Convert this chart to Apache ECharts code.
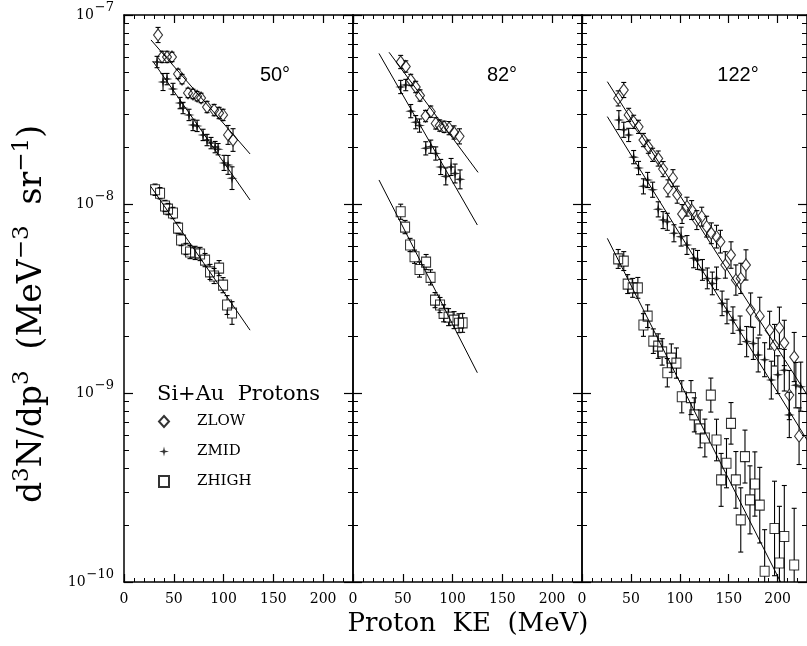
<!DOCTYPE html>
<html><head><meta charset="utf-8">
<script src="https://cdn.jsdelivr.net/npm/echarts@6/dist/echarts.min.js"></script>
<style>html,body{margin:0;padding:0;background:#fff}#c{width:807px;height:646px}</style>
</head><body><div id="c"></div>
<script>
// ---------- data ----------
const angleLabels = ['50°', '82°', '122°'];
const seriesNames = ['ZLOW', 'ZMID', 'ZHIGH'];
const xTickLabels = [0, 50, 100, 150, 200];
const yDecades = [1e-10, 1e-9, 1e-8, 1e-7];
const yMinorTicks = [2e-10,3e-10,4e-10,5e-10,6e-10,7e-10,8e-10,9e-10,
                     2e-9,3e-9,4e-9,5e-9,6e-9,7e-9,8e-9,9e-9,
                     2e-8,3e-8,4e-8,5e-8,6e-8,7e-8,8e-8,9e-8];

// points: [KE (MeV), d3N/dp3, error half-width in decades]
const zlow50 = [[34.2,7.84e-8,0.04],[38.2,6.0e-8,0.03],[43.2,6.0e-8,0.03],[48.2,6.0e-8,0.025],[54.3,4.88e-8,0.025],[58.3,4.58e-8,0.025],[64.3,3.87e-8,0.025],[69.3,3.82e-8,0.025],[73.4,3.72e-8,0.025],[77.4,3.64e-8,0.025],[83.4,3.26e-8,0.03],[90.5,3.14e-8,0.03],[95.5,3.03e-8,0.03],[99.5,2.96e-8,0.03],[104.5,2.32e-8,0.05],[109.5,2.18e-8,0.06]];
const zmid50 = [[33.2,5.64e-8,0.03],[39.2,4.42e-8,0.045],[43.2,4.58e-8,0.03],[49.2,4.06e-8,0.03],[56.3,3.42e-8,0.03],[59.3,3.22e-8,0.03],[65.3,2.96e-8,0.03],[69.3,2.62e-8,0.03],[73.4,2.59e-8,0.03],[79.4,2.32e-8,0.03],[83.4,2.18e-8,0.03],[87.4,2.10e-8,0.03],[91.5,2.0e-8,0.03],[94.5,1.95e-8,0.03],[100.5,1.65e-8,0.04],[104.5,1.61e-8,0.05],[108.5,1.37e-8,0.06]];
const zhigh50 = [[31.2,1.19e-8,0.03],[36.2,1.14e-8,0.03],[41.2,9.76e-9,0.03],[44.2,9.4e-9,0.03],[49.2,8.96e-9,0.03],[54.3,7.46e-9,0.03],[57.3,6.45e-9,0.03],[62.3,5.78e-9,0.03],[66.3,5.57e-9,0.035],[71.4,5.51e-9,0.035],[76.4,5.44e-9,0.035],[81.4,5.05e-9,0.035],[86.4,4.37e-9,0.04],[90.5,4.16e-9,0.04],[95.5,4.58e-9,0.04],[99.5,3.72e-9,0.04],[103.5,2.92e-9,0.05],[108.5,2.65e-9,0.06]];

const zlow82 = [[47.9,5.64e-8,0.035],[53.0,5.34e-8,0.03],[58.0,4.53e-8,0.03],[63.0,4.16e-8,0.03],[67.3,3.75e-8,0.03],[72.9,2.92e-8,0.03],[78.1,3.08e-8,0.03],[83.1,2.67e-8,0.03],[87.1,2.60e-8,0.03],[91.5,2.56e-8,0.03],[96.5,2.52e-8,0.035],[101.5,2.39e-8,0.035],[107.0,2.28e-8,0.04]];
const zmid82 = [[47.9,4.16e-8,0.035],[53.0,4.26e-8,0.03],[58.0,3.10e-8,0.035],[63.0,2.71e-8,0.035],[66.8,2.60e-8,0.035],[73.1,1.97e-8,0.035],[78.1,2.01e-8,0.035],[83.1,1.85e-8,0.035],[88.1,1.57e-8,0.04],[93.2,1.40e-8,0.045],[98.5,1.57e-8,0.045],[102.5,1.45e-8,0.05],[107.5,1.35e-8,0.05]];
const zhigh82 = [[47.9,9.1e-9,0.04],[52.3,7.55e-9,0.035],[57.3,6.07e-9,0.035],[61.8,5.26e-9,0.035],[66.8,4.50e-9,0.04],[73.4,4.93e-9,0.04],[77.9,4.09e-9,0.04],[82.4,3.10e-9,0.04],[87.4,2.92e-9,0.04],[91.0,2.64e-9,0.045],[96.0,2.52e-9,0.045],[101.5,2.43e-9,0.045],[106.5,2.34e-9,0.05],[110.1,2.35e-9,0.05]];

const zlow122 = [[37.0,3.62e-8,0.04],[42.7,4.01e-8,0.04],[47.7,2.96e-8,0.035],[52.8,2.72e-8,0.035],[57.8,2.56e-8,0.035],[62.8,2.18e-8,0.035],[67.8,2.01e-8,0.035],[72.2,1.82e-8,0.035],[77.9,1.74e-8,0.04],[82.9,1.53e-8,0.04],[87.9,1.21e-8,0.045],[93.0,1.37e-8,0.045],[97.3,1.12e-8,0.045],[102.3,8.85e-9,0.05],[107.3,9.68e-9,0.05],[112.1,9.29e-9,0.05],[117.4,8.22e-9,0.05],[122.4,8.57e-9,0.05],[127.4,7.59e-9,0.055],[132.2,7.0e-9,0.055],[137.5,6.72e-9,0.06],[141.5,6.32e-9,0.06],[146.5,4.76e-9,0.07],[152.3,5.37e-9,0.07],[157.3,3.96e-9,0.08],[162.3,4.04e-9,0.08],[167.6,4.76e-9,0.08],[172.4,2.75e-9,0.09],[181.7,2.55e-9,0.1],[191.8,2.15e-9,0.1],[196.8,1.79e-9,0.11],[201.8,2.21e-9,0.11],[206.8,1.84e-9,0.12],[211.9,9.75e-10,0.13],[216.9,1.55e-9,0.13],[221.9,5.91e-10,0.15]];
const zmid122 = [[37.7,2.78e-8,0.05],[42.7,2.47e-8,0.04],[47.7,2.32e-8,0.035],[52.8,1.77e-8,0.035],[57.8,1.55e-8,0.035],[62.8,1.24e-8,0.04],[67.1,1.34e-8,0.04],[72.2,1.19e-8,0.04],[77.9,9.37e-9,0.04],[82.9,8.22e-9,0.045],[87.2,8.05e-9,0.045],[94.0,7.0e-9,0.045],[101.3,6.72e-9,0.05],[107.3,6.07e-9,0.05],[114.1,5.16e-9,0.05],[118.1,5.06e-9,0.05],[123.1,4.48e-9,0.055],[128.1,4.04e-9,0.055],[133.2,3.80e-9,0.06],[137.5,4.04e-9,0.06],[143.2,2.98e-9,0.065],[148.2,2.70e-9,0.065],[154.3,2.43e-9,0.07],[161.6,2.15e-9,0.075],[168.3,1.87e-9,0.08],[175.1,1.83e-9,0.085],[180.1,1.59e-9,0.09],[186.7,1.50e-9,0.09],[193.5,1.17e-9,0.1],[200.2,1.25e-9,0.1],[206.8,1.32e-9,0.11],[211.9,7.66e-10,0.12],[218.6,1.10e-9,0.12],[223.6,1.08e-9,0.13]];
const zhigh122 = [[37.0,5.12e-9,0.05],[42.7,4.99e-9,0.05],[46.7,3.77e-9,0.05],[51.8,3.60e-9,0.05],[57.1,3.60e-9,0.055],[62.8,2.29e-9,0.06],[67.1,2.55e-9,0.06],[72.9,1.88e-9,0.065],[77.9,1.77e-9,0.065],[81.9,1.65e-9,0.07],[87.2,1.28e-9,0.075],[91.3,1.53e-9,0.075],[96.5,1.44e-9,0.08],[102.0,9.55e-10,0.085],[111.4,9.46e-10,0.09],[114.8,7.66e-10,0.09],[120.8,6.46e-10,0.1],[125.6,5.78e-10,0.1],[131.7,9.75e-10,0.09],[137.5,5.64e-10,0.11],[142.2,3.47e-10,0.14],[147.7,4.25e-10,0.13],[152.3,6.91e-10,0.11],[157.3,3.47e-10,0.15],[162.3,2.13e-10,0.17],[166.6,4.61e-10,0.14],[171.7,2.72e-10,0.18],[176.7,3.30e-10,0.17],[181.7,2.55e-10,0.2],[186.7,1.14e-10,0.22],[196.8,1.92e-10,0.25],[201.8,1.26e-10,0.3],[206.8,1.74e-10,0.27],[216.9,1.23e-10,0.3]];

// fitted exponential lines: two end points each
const fitZlow50 = [[27.1,7.38e-8],[126.6,1.84e-8]];
const fitZmid50 = [[28.8,5.71e-8],[126.6,1.05e-8]];
const fitZhigh50 = [[26.8,1.24e-8],[126.6,2.15e-9]];
const fitZlow82 = [[36.2,6.35e-8],[125.6,1.47e-8]];
const fitZmid82 = [[26.1,6.26e-8],[124.9,7.74e-9]];
const fitZhigh82 = [[26.1,1.34e-8],[124.9,1.28e-9]];
const fitZlow122 = [[25.9,4.44e-8],[230,9.8e-10]];
const fitZmid122 = [[25.9,2.9e-8],[230,5.65e-10]];
const fitZhigh122 = [[25.9,6.58e-9],[203,1.0e-10]];

// ---------- layout / styles ----------
const SERIF = 'DejaVu Serif';
const SANS = 'Liberation Sans';
const panels = [
  {pts: [zlow50, zmid50, zhigh50], fits: [fitZlow50, fitZmid50, fitZhigh50], left: 124, labelX: 275},
  {pts: [zlow82, zmid82, zhigh82], fits: [fitZlow82, fitZmid82, fitZhigh82], left: 353, labelX: 502},
  {pts: [zlow122, zmid122, zhigh122], fits: [fitZlow122, fitZmid122, fitZhigh122], left: 582, labelX: 738}
];
const STAR = 'path://M0,-6 L1.1,-1.1 L6,0 L1.1,1.1 L0,6 L-1.1,1.1 L-6,0 L-1.1,-1.1 Z';
const symbols = [
  {symbol: 'diamond', size: [9, 12], half: 6, itemStyle: {color: 'rgba(0,0,0,0)', borderColor: '#000', borderWidth: 1.1}},
  {symbol: STAR, size: 11, half: 0, itemStyle: {color: '#000', borderWidth: 0}},
  {symbol: 'rect', size: [9, 10], half: 5, itemStyle: {color: 'rgba(0,0,0,0)', borderColor: '#000', borderWidth: 1.1}}
];
const black = '#000';

const grid = [], xAxis = [], yAxis = [], series = [];
panels.forEach((p, i) => {
  grid.push({left: p.left, top: 15, width: 229, height: 567, containLabel: false});
  const xBase = {gridIndex: i, type: 'value', min: 0, max: 230, offset: 0, splitLine: {show: false}};
  xAxis.push(Object.assign({}, xBase, {position: 'bottom', interval: 50,
    axisLine: {show: true, onZero: false, lineStyle: {color: black, width: 1.5}},
    axisTick: {show: true, inside: true, length: 8, lineStyle: {color: black, width: 1.2}},
    axisLabel: {show: true, color: black, fontFamily: SERIF, fontSize: 14, margin: 10, showMaxLabel: false,
      formatter: v => xTickLabels.indexOf(v) >= 0 ? String(v) : ''}}));
  xAxis.push(Object.assign({}, xBase, {position: 'bottom', interval: 10,
    axisLine: {show: false, onZero: false}, axisLabel: {show: false},
    axisTick: {show: true, inside: true, length: 4, lineStyle: {color: black, width: 1}}}));
  xAxis.push(Object.assign({}, xBase, {position: 'top', interval: 50,
    axisLine: {show: true, onZero: false, lineStyle: {color: black, width: 1.5}}, axisLabel: {show: false},
    axisTick: {show: true, inside: true, length: 8, lineStyle: {color: black, width: 1.2}}}));
  xAxis.push(Object.assign({}, xBase, {position: 'top', interval: 10,
    axisLine: {show: false, onZero: false}, axisLabel: {show: false},
    axisTick: {show: true, inside: true, length: 4, lineStyle: {color: black, width: 1}}}));

  const yBase = {gridIndex: i, type: 'log', logBase: 10, min: 1e-10, max: 1e-7, offset: 0,
    splitLine: {show: false}, minorTick: {show: false}};
  ['left', 'right'].forEach(pos => {
    yAxis.push(Object.assign({}, yBase, {position: pos,
      axisLine: {show: true, onZero: false, lineStyle: {color: black, width: 1.5}},
      axisTick: {show: true, inside: true, length: 9, customValues: yDecades, lineStyle: {color: black, width: 1.2}},
      axisLabel: {show: i === 0 && pos === 'left', customValues: yDecades, margin: 10, color: black,
        fontFamily: SERIF, fontSize: 14,
        formatter: v => '{b|10}{e|\u2212' + Math.abs(Math.round(Math.log10(v))) + '}',
        rich: {b: {fontFamily: SERIF, fontSize: 14, color: black},
               e: {fontFamily: SERIF, fontSize: 13, color: black, padding: [0, 0, 14, 1]}}}}));
    yAxis.push(Object.assign({}, yBase, {position: pos,
      axisLine: {show: false, onZero: false}, axisLabel: {show: false},
      axisTick: {show: true, inside: true, length: 5, customValues: yMinorTicks, lineStyle: {color: black, width: 1}}}));
  });

  const xi = i * 4, yi = i * 4;
  p.fits.forEach(f => series.push({type: 'line', xAxisIndex: xi, yAxisIndex: yi, data: f, symbol: 'none',
    silent: true, z: 2, lineStyle: {color: black, width: 1}, animation: false}));
  p.pts.forEach((pts, k) => {
    const half = symbols[k].half;
    series.push({type: 'custom', xAxisIndex: xi, yAxisIndex: yi, data: pts, clip: true, silent: true, z: 3,
      encode: {x: 0, y: 1}, animation: false,
      renderItem: (params, api) => {
        const x = api.value(0), y = api.value(1), e = api.value(2);
        const c = api.coord([x, y]);
        const f = Math.pow(10, e);
        const yt = api.coord([x, y * f])[1];
        const yb = api.coord([x, y / f])[1];
        const st = {stroke: black, lineWidth: 1.1};
        const ch = [];
        if (c[1] - half > yt) ch.push({type: 'line', shape: {x1: c[0], y1: yt, x2: c[0], y2: c[1] - half}, style: st});
        if (c[1] + half < yb) ch.push({type: 'line', shape: {x1: c[0], y1: c[1] + half, x2: c[0], y2: yb}, style: st});
        ch.push({type: 'line', shape: {x1: c[0] - 2.5, y1: yt, x2: c[0] + 2.5, y2: yt}, style: st});
        ch.push({type: 'line', shape: {x1: c[0] - 2.5, y1: yb, x2: c[0] + 2.5, y2: yb}, style: st});
        return {type: 'group', children: ch};
      }});
    series.push({type: 'scatter', name: seriesNames[k], xAxisIndex: xi, yAxisIndex: yi, data: pts, z: 4,
      symbol: symbols[k].symbol, symbolSize: symbols[k].size, itemStyle: symbols[k].itemStyle, animation: false});
  });
});

const graphic = [];
panels.forEach((p, i) => graphic.push({type: 'text', x: p.labelX, y: 75,
  style: {text: angleLabels[i], font: '20px ' + SANS, fill: black, align: 'center', verticalAlign: 'middle'}}));
graphic.push({type: 'text', x: 157, y: 395,
  style: {text: 'Si+Au  Protons', font: '21px ' + SERIF, fill: black, align: 'left', verticalAlign: 'middle'}});
graphic.push({type: 'text', x: 468, y: 624,
  style: {text: 'Proton  KE  (MeV)', font: '26px ' + SERIF, fill: black, align: 'center', verticalAlign: 'middle'}});
graphic.push({type: 'text', x: 32, y: 314, rotation: Math.PI / 2,
  style: {text: 'd{s|3}N/dp{s|3}  (MeV{s|\u22123}  sr{s|\u22121})', font: '33px ' + SERIF, fill: black,
    align: 'center', verticalAlign: 'middle',
    rich: {s: {fontFamily: SERIF, fontSize: 23, fill: black, padding: [0, 0, 20, 0]}}}});

const option = {
  backgroundColor: '#fff',
  animation: false,
  grid, xAxis, yAxis, series, graphic,
  legend: {
    data: [{name: 'ZLOW', icon: 'diamond'}, {name: 'ZMID', icon: STAR}, {name: 'ZHIGH', icon: 'rect'}],
    orient: 'vertical', left: 158, top: 414, padding: 0, itemWidth: 10, itemHeight: 11, itemGap: 15,
    selectedMode: false,
    formatter: n => '{g|}' + n,
    textStyle: {fontFamily: SERIF, fontSize: 15, color: black, rich: {g: {width: 23}}}
  }
};
const chart = echarts.init(document.getElementById('c'), null, {renderer: 'canvas'});
chart.setOption(option);
</script></body></html>
